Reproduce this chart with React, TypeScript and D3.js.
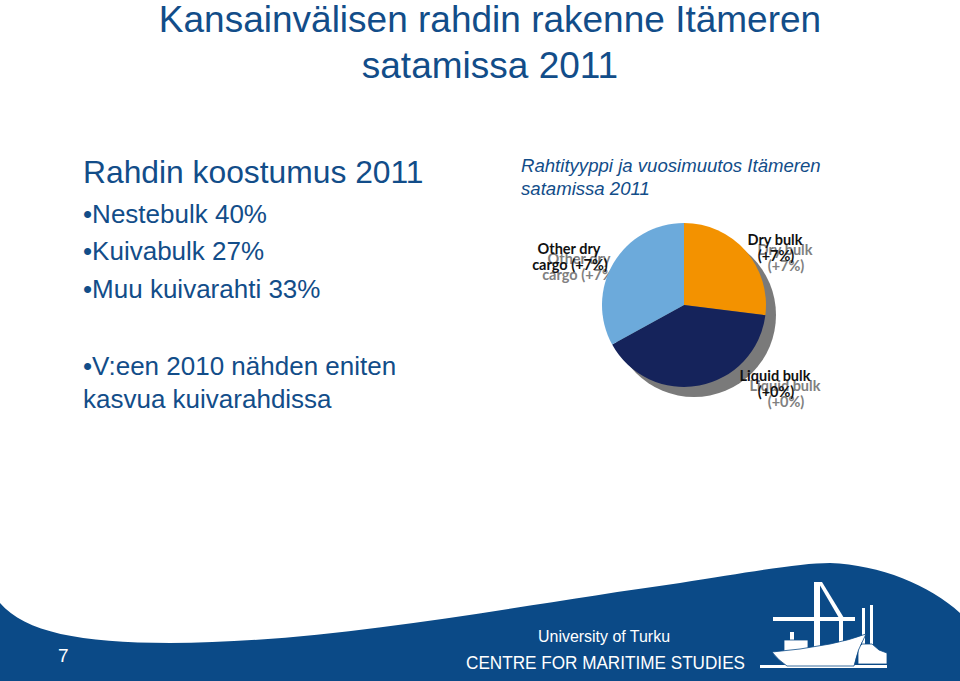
import React from "react";
import * as d3 from "d3";

const categories = ["Dry bulk", "Liquid bulk", "Other dry cargo"];
const shares = [27, 40, 33];
const changes = ["+7%", "+0%", "+7%"];
const bulletItems = ["Nestebulk 40%", "Kuivabulk 27%", "Muu kuivarahti 33%"];
const titleLines = ["Kansainvälisen rahdin rakenne Itämeren", "satamissa 2011"];
const subtitleLines = ["Rahtityyppi ja vuosimuutos Itämeren", "satamissa 2011"];

const sliceColors = ["#F39200", "#15235B", "#6CAADB"];
const BLUE = "#124D89";
const FOOTER = "#0B4A87";

// label text split into two lines per slice
const labelLines = [
  ["Dry bulk", `(${changes[0]})`],
  ["Liquid bulk", `(${changes[1]})`],
  ["Other dry", `cargo (${changes[2]})`],
];
const labelAnchor = [
  { x: 775, y: 245 },
  { x: 775, y: 381 },
  { x: 569, y: 254 },
];

export default function App() {
  const W = 960, H = 681;
  const cx = 684, cy = 305, r = 82;
  const pie = d3.pie<number>().sort(null).value((d) => d).startAngle(0).endAngle(2 * Math.PI);
  const arcs = pie(shares);
  const arc = d3.arc<d3.PieArcDatum<number>>().innerRadius(0).outerRadius(r);

  const footerPath =
    "M0,603 C25,632 80,643 170,643 C330,643 520,605 680,583 C750,572 800,563 830,563 C880,565 930,585 960,613 L960,681 L0,681 Z";

  const label = (i: number, dx: number, dy: number, fill: string) => (
    <g key={`${i}-${fill}`} fontFamily="Lato, 'Open Sans', sans-serif" fontWeight={700} fontSize={14.5} textAnchor="middle" fill={fill}>
      <text x={labelAnchor[i].x + dx} y={labelAnchor[i].y + dy}>{labelLines[i][0]}</text>
      <text x={labelAnchor[i].x + dx + 1} y={labelAnchor[i].y + dy + 16}>{labelLines[i][1]}</text>
    </g>
  );

  return (
    <svg width={W} height={H} viewBox={`0 0 ${W} ${H}`} style={{ position: "absolute", left: 0, top: 0 }}>
      <rect width={W} height={H} fill="#fff" />
      <g fontFamily="'Liberation Sans', Arial, sans-serif" fill={BLUE}>
        <text x={490} y={32} fontSize={37} textAnchor="middle">{titleLines[0]}</text>
        <text x={490} y={78} fontSize={37} textAnchor="middle">{titleLines[1]}</text>
        <text x={83} y={183} fontSize={31.8}>Rahdin koostumus 2011</text>
        {bulletItems.map((t, i) => (
          <text key={t} x={83} y={[223, 260, 298][i]} fontSize={26}>{"•" + t}</text>
        ))}
        <text x={83} y={375} fontSize={26}>•V:een 2010 nähden eniten</text>
        <text x={83} y={408} fontSize={26}>kasvua kuivarahdissa</text>
        <text x={521} y={172} fontSize={18.6} fontStyle="italic">{subtitleLines[0]}</text>
        <text x={521} y={195} fontSize={18.6} fontStyle="italic">{subtitleLines[1]}</text>
      </g>

      {/* grey echo labels (behind pie) */}
      {categories.map((_, i) => label(i, 10, 10, "#808080"))}

      {/* pie shadow */}
      <circle cx={cx + 10} cy={cy + 10} r={r} fill="#7A7A7A" />
      <g transform={`translate(${cx},${cy})`}>
        {arcs.map((a, i) => (
          <path key={categories[i]} d={arc(a) || ""} fill={sliceColors[i]} />
        ))}
      </g>
      {categories.map((_, i) => label(i, 0, 0, "#111"))}

      {/* footer */}
      <path d={footerPath} fill={FOOTER} />
      <text x={58} y={662} fontSize={19} fill="#fff" fontFamily="'Liberation Sans', Arial, sans-serif">7</text>
      <text x={538} y={642} fontSize={16} fill="#fff" fontFamily="'Liberation Sans', Arial, sans-serif" textLength={132} lengthAdjust="spacingAndGlyphs">University of Turku</text>
      <text x={466} y={669} fontSize={19} fill="#fff" fontFamily="'Liberation Sans', Arial, sans-serif" textLength={279} lengthAdjust="spacingAndGlyphs">CENTRE FOR MARITIME STUDIES</text>

      {/* logo */}
      <g fill="#fff">
        <rect x={760} y={665} width={127} height={3} />
        <rect x={814} y={582} width={6} height={66} />
        <path d="M818,582 L822,582 L844,618 L839,618 Z" />
        <rect x={773} y={617} width={82} height={4} />
        <rect x={839} y={617} width={4} height={30} />
        <rect x={862} y={608} width={3} height={38} />
        <rect x={870} y={605} width={3} height={42} />
        <path d="M858,664 L858,648 L862,644 L872,644 L879,650 L887,653 L887,664 Z" stroke={FOOTER} strokeWidth={0.8} />
        <rect x={790} y={632} width={4} height={9} />
        <rect x={784} y={640} width={24} height={13} stroke={FOOTER} strokeWidth={0.8} />
        <path d="M772,652 L800,649 L830,644 Q850,640 866,634 Q857,650 854,666 L787,666 Q778,660 772,652 Z" stroke={FOOTER} strokeWidth={0.8} />
      </g>
    </svg>
  );
}
